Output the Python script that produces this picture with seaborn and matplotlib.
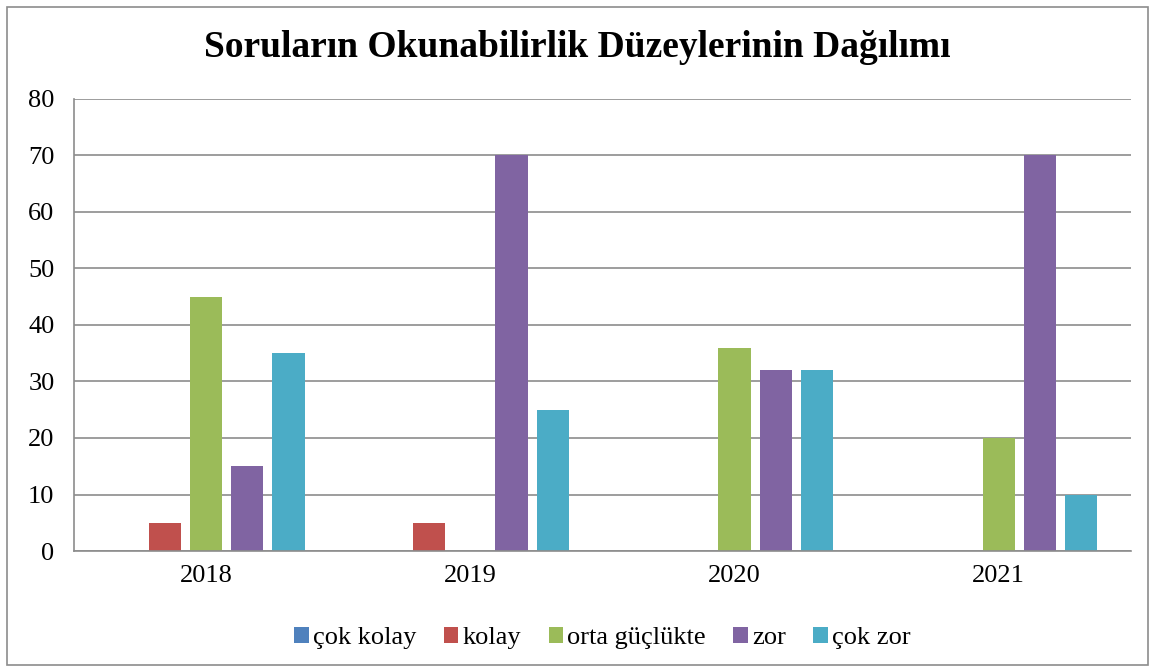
import pandas as pd
import seaborn as sns
import matplotlib.pyplot as plt
from matplotlib.patches import Rectangle

# chart values
years = ["2018", "2019", "2020", "2021"]
levels = ["çok kolay", "kolay", "orta güçlükte", "zor", "çok zor"]
cok_kolay = [0, 0, 0, 0]
kolay = [5, 5, 0, 0]
orta = [45, 0, 36, 20]
zor = [15, 70, 32, 70]
cok_zor = [35, 25, 32, 10]
colors = ["#4F81BD", "#C0504D", "#9BBB59", "#8064A2", "#4BACC6"]

rows = []
for level, vals in zip(levels, [cok_kolay, kolay, orta, zor, cok_zor]):
    for y, v in zip(years, vals):
        rows.append({"yil": y, "duzey": level, "deger": v})
df = pd.DataFrame(rows)

sns.set_style("white")
plt.rcParams['font.family'] = ['Liberation Serif', 'DejaVu Serif']
plt.rcParams['text.color'] = 'black'
plt.rcParams['xtick.color'] = 'black'
plt.rcParams['ytick.color'] = 'black'

fig = plt.figure(figsize=(11.55, 6.72), dpi=100)
ax = fig.add_axes([0.064, 0.180, 0.915, 0.673])

sns.barplot(data=df, x="yil", y="deger", hue="duzey", order=years,
            hue_order=levels, palette=colors, width=0.78, gap=0.22,
            saturation=1, linewidth=0, ax=ax)

ax.set_ylim(0, 80)
ax.set_yticks(range(0, 81, 10))
ax.yaxis.grid(True, color="#8c8c8c", linewidth=1.2)
ax.set_axisbelow(True)
for s in ["top", "right"]:
    ax.spines[s].set_visible(False)
for s in ["left", "bottom"]:
    ax.spines[s].set_color("#8c8c8c")
    ax.spines[s].set_linewidth(1.2)
ax.tick_params(axis="both", labelsize=19, length=0, pad=10)
ax.tick_params(axis="y", pad=14)
ax.set_xlabel("")
ax.set_ylabel("")

ax.legend(loc="upper center", bbox_to_anchor=(0.5, -0.115), ncol=5,
          frameon=False, fontsize=19, handlelength=0.55, handleheight=0.55,
          handletextpad=0.15, columnspacing=1.05)

fig.suptitle("Soruların Okunabilirlik Düzeylerinin Dağılımı", y=0.955,
             fontsize=27, fontweight="bold")

fig.patches.append(Rectangle((0.006, 0.01), 0.988, 0.98, transform=fig.transFigure,
                             fill=False, edgecolor="#8c8c8c", linewidth=1.2))

fig.savefig("out.png", dpi=100)
